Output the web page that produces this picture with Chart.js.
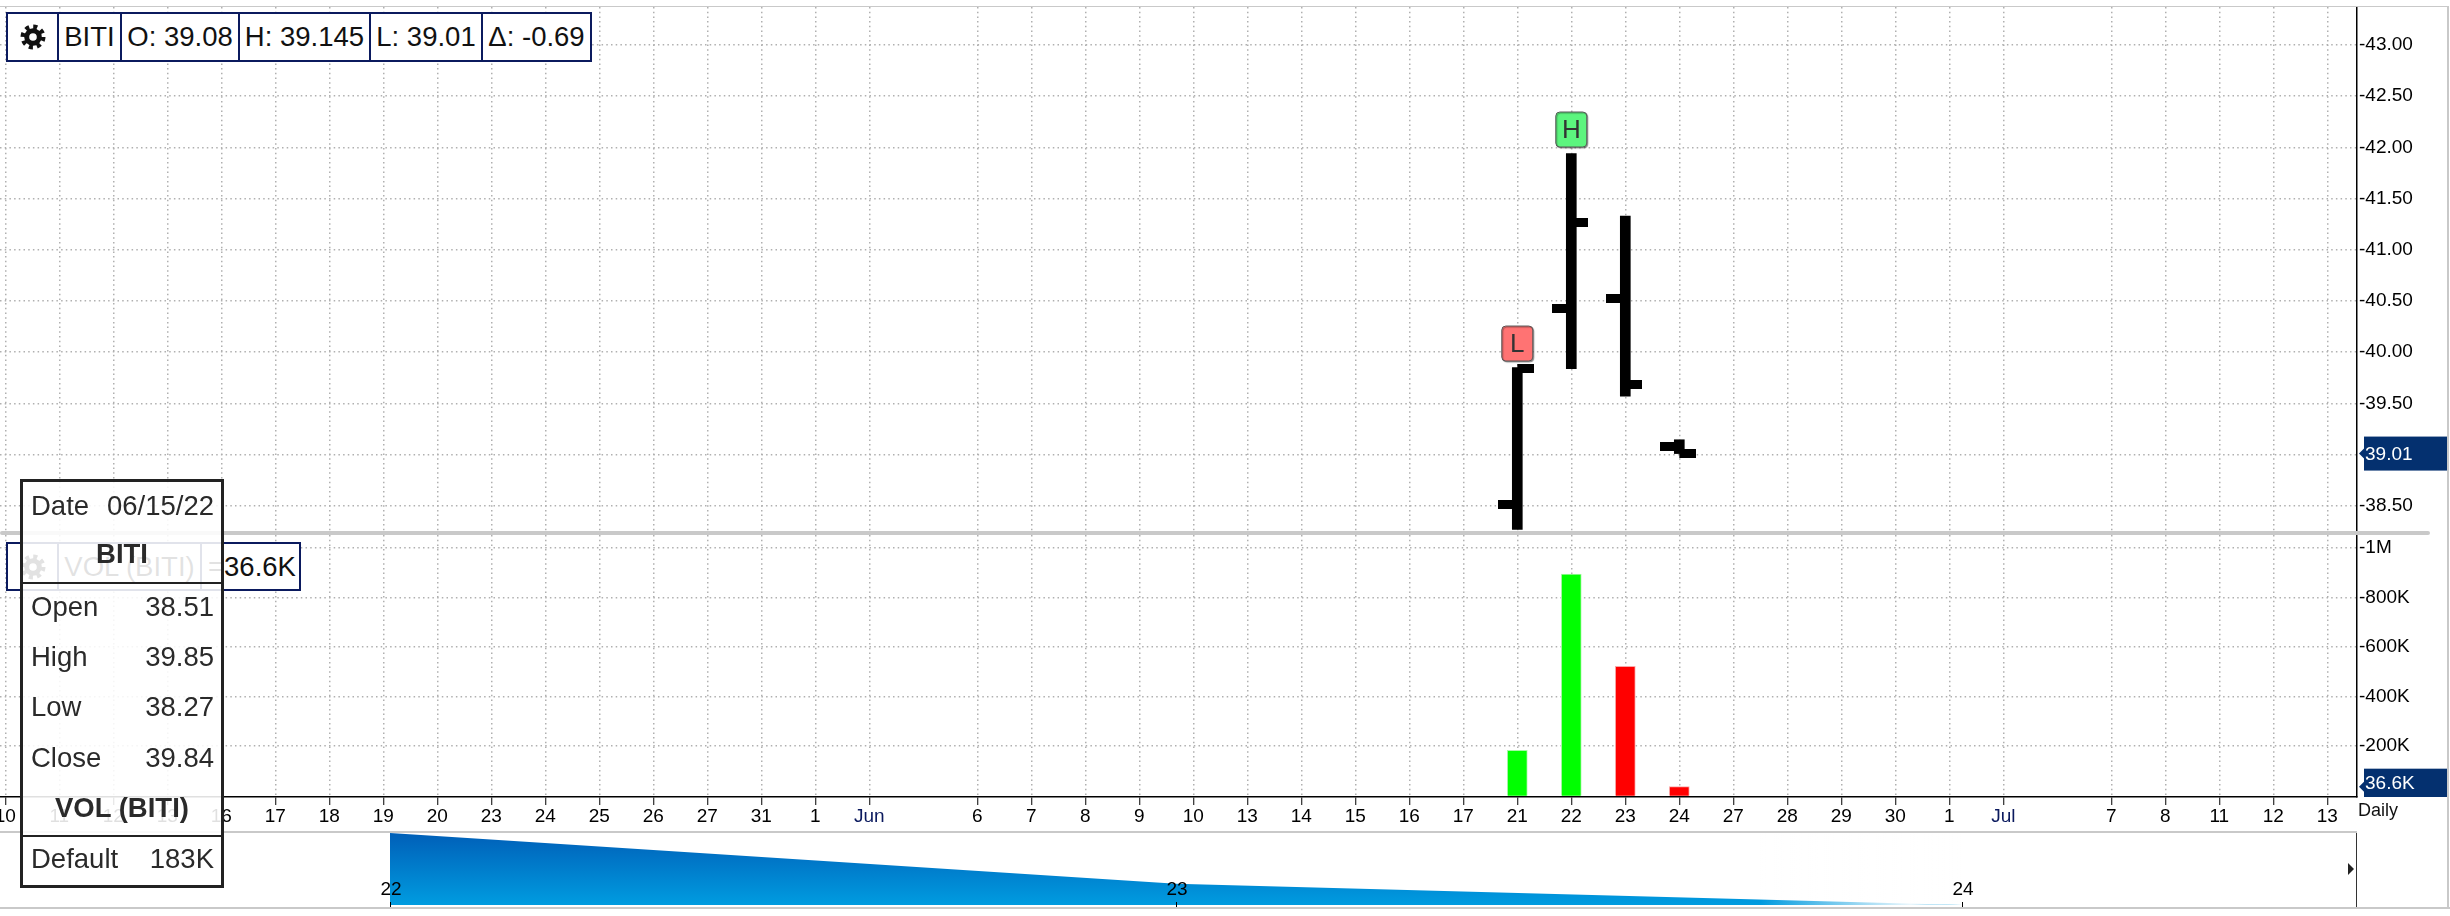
<!DOCTYPE html>
<html><head><meta charset="utf-8">
<script src="https://cdn.jsdelivr.net/npm/chart.js@4"></script>
<style>
html,body{margin:0;padding:0;background:#fff;width:2450px;height:916px;overflow:hidden;font-family:"Liberation Sans",Arial,sans-serif;color:#111}
canvas{position:absolute;display:block}
.rule{position:absolute;background:#c9c9c9}
.cellbar{position:absolute;display:flex;border:2px solid #0b1a5e;box-sizing:border-box;background:#fff;font-size:27.5px;line-height:46px}
.cellbar div{border-right:2px solid #0b1a5e;box-sizing:border-box;height:100%;white-space:nowrap;display:flex;align-items:center;justify-content:center}
.cellbar div:last-child{border-right:0}
#tip{position:absolute;left:20px;top:479px;width:204px;height:409px;box-sizing:border-box;border:3px solid #222;background:rgba(255,255,255,.88);font-size:27.5px;color:#2a2a2a}
#tip span{position:absolute;white-space:nowrap;line-height:32px}
#tip i{position:absolute;left:0;right:0;height:2px;background:#222}
#daily{position:absolute;left:2358px;top:799px;font-size:18px;line-height:22px}
#arrow{position:absolute;left:2348px;top:863px;width:0;height:0;border-left:6px solid #222;border-top:6px solid transparent;border-bottom:6px solid transparent}
</style></head><body>
<div class="rule" style="left:0;top:6px;width:2448px;height:1px"></div>
<div class="rule" style="left:2447px;top:6px;width:2px;height:901px"></div>
<div class="rule" style="left:0;top:831px;width:2357px;height:2px"></div>
<div class="rule" style="left:0;top:907px;width:2450px;height:2px"></div>
<div class="rule" style="left:2356px;top:833px;width:1px;height:74px;background:#333"></div>
<canvas id="price" style="left:0;top:7px" width="2450" height="525"></canvas>
<div class="rule" style="left:0;top:531px;width:2430px;height:4px;border-radius:2px"></div>
<canvas id="volume" style="left:0;top:535px" width="2450" height="297"></canvas>
<canvas id="nav" style="left:0;top:828px" width="2357" height="80"></canvas>
<div id="arrow"></div>
<div id="daily">Daily</div>

<div class="cellbar" style="left:6px;top:12px;width:586px;height:50px">
 <div style="width:51px"><svg width="28" height="28" viewBox="-14 -14 28 28"><circle r="6.3" fill="none" stroke="#111" stroke-width="5"/><circle r="10.2" fill="none" stroke="#111" stroke-width="4.6" stroke-dasharray="4 4"/></svg></div>
 <div style="width:63px">BITI</div><div style="width:118px">O: 39.08</div><div style="width:131px">H: 39.145</div><div style="width:112px">L: 39.01</div><div style="flex:1">&Delta;: -0.69</div>
</div>
<div class="cellbar" style="left:6px;top:542px;width:295px;height:49px">
 <div style="width:51px"><svg width="28" height="28" viewBox="-14 -14 28 28"><circle r="6.3" fill="none" stroke="#111" stroke-width="5"/><circle r="10.2" fill="none" stroke="#111" stroke-width="4.6" stroke-dasharray="4 4"/></svg></div>
 <div style="width:143px">VOL (BITI)</div><div style="flex:1;justify-content:flex-start;padding-left:6px">=36.6K</div>
</div>

<div id="tip">
 <span style="left:8px;top:8px">Date</span><span style="right:7px;top:8px">06/15/22</span>
 <span style="left:0;right:0;text-align:center;top:56px;font-weight:bold">BITI</span>
 <i style="top:100px"></i>
 <span style="left:8px;top:109px">Open</span><span style="right:7px;top:109px">38.51</span>
 <span style="left:8px;top:159px">High</span><span style="right:7px;top:159px">39.85</span>
 <span style="left:8px;top:209px">Low</span><span style="right:7px;top:209px">38.27</span>
 <span style="left:8px;top:260px">Close</span><span style="right:7px;top:260px">39.84</span>
 <span style="left:0;right:0;text-align:center;top:310px;font-weight:bold">VOL (BITI)</span>
 <i style="top:353px"></i>
 <span style="left:8px;top:361px">Default</span><span style="right:7px;top:361px">183K</span>
</div>

<script>
// ---- data ----
const categories = ['10','11','12','13','16','17','18','19','20','23','24','25','26','27','31','1','Jun','','6','7','8','9','10','13','14','15','16','17','21','22','23','24','27','28','29','30','1','Jul','','7','8','11','12','13'];
const barSlots = [28,29,30,31];
const openValues  = [38.51,40.43,40.52,39.08];
const highValues  = [39.85,41.94,41.33,39.145];
const lowValues   = [38.27,39.84,39.57,39.01];
const closeValues = [39.84,41.27,39.68,39.01];
const volumeValues = [183000,893000,522000,36600];
const volumeUp = [true,true,false,false];
const priceTicks = [38.5,39,39.5,40,40.5,41,41.5,42,42.5,43];
const priceTickLabels = ['38.50','','39.50','40.00','40.50','41.00','41.50','42.00','42.50','43.00'];
const volumeTicks = [200000,400000,600000,800000,1000000];
const volumeTickLabels = ['200K','400K','600K','800K','1M'];
const navLabels = ['22','23','24'];
const navValues = [41.27,39.68,39.01];
const extremeFlags = [{slot:28,text:'L',fill:'#ff7373'},{slot:29,text:'H',fill:'#5cf57e'}];

// ---- styling ----
const FONT = '"Liberation Sans", Arial, sans-serif';
const GRID = '#b0b0b0';
const GRID_DASH = [1.5,3.2];
Chart.defaults.font.family = FONT;
Chart.defaults.font.size = 19;
Chart.defaults.devicePixelRatio = 1;
Chart.defaults.animation = false;
Chart.defaults.responsive = false;
Chart.defaults.plugins.legend.display = false;
Chart.defaults.plugins.tooltip.enabled = false;

function noPadding(s){ s.paddingLeft = s.paddingRight = s.paddingTop = s.paddingBottom = 0; }
function tickMark(side){
  const c = document.createElement('canvas');
  c.width = side === 'left' ? 38 : 34; c.height = 9;
  const g = c.getContext('2d'); g.fillStyle = '#000';
  g.fillRect(side === 'left' ? 0 : c.width/2, 0, c.width/2, 9);
  return c;
}
function xScale(showLabels){
  return {
    type:'linear', min:-0.098, max:43.55, offset:false,
    afterBuildTicks(s){ s.ticks = categories.map((_,i)=>({value:i})); },
    afterFit(s){ s.height = showLabels ? 35 : 0; noPadding(s); },
    ticks:{display:showLabels, autoSkip:false, maxRotation:0, padding:0, includeBounds:false,
      color:c=>/J/.test(categories[c.index]||'')?'#0b1a5e':'#000',
      callback:(v)=>categories[v]},
    grid:{offset:false, drawTicks:showLabels, tickLength:8, tickColor:c=>categories[c.index]===''?'transparent':'#000', tickWidth:1, tickBorderDash:[],
      color:c=>categories[c.index]===''?'transparent':GRID, lineWidth:1.5},
    border:{display:showLabels, color:'#000', width:1.5, dash:GRID_DASH}
  };
}
function yScale(ticks,labels,min,max){
  return {
    position:'right', min, max,
    afterBuildTicks(s){ s.ticks = ticks.map(v=>({value:v})); },
    afterFit(s){ s.width = 93; noPadding(s); },
    ticks:{autoSkip:false, padding:2, color:'#000', callback:(v)=>{const l=labels[ticks.indexOf(v)];return l?'-'+l:'';}},
    grid:{drawTicks:false, color:GRID, lineWidth:1.5},
    border:{display:true, color:'#000', width:1.5, dash:GRID_DASH}
  };
}
const lastTag = {
  id:'lastTag',
  afterDraw(chart,_,o){
    const g = chart.ctx, y = chart.scales.y.getPixelForValue(o.value), h = o.half;
    const L = 2364, R = 2447;
    const top = y-h, bot = Math.min(y+h, chart.chartArea.bottom);
    g.save(); g.fillStyle = '#04306f';
    g.fillRect(L,top,R-L,bot-top);
    g.beginPath(); g.moveTo(2359,y); g.lineTo(L+1,y-6); g.lineTo(L+1,y+6); g.fill();
    g.fillStyle = '#fff'; g.font = '19px '+FONT; g.textBaseline='middle'; g.textAlign='left';
    g.fillText(o.text,2365,(top+bot)/2+1);
    g.restore();
  }
};
const flags = {
  id:'flags',
  afterDatasetsDraw(chart){
    const g = chart.ctx, xs = chart.scales.x, ys = chart.scales.y;
    extremeFlags.forEach(f=>{
      const i = barSlots.indexOf(f.slot);
      const cx = xs.getPixelForValue(f.slot), cy = ys.getPixelForValue(highValues[i]) - 24;
      g.save();
      g.shadowColor='rgba(0,0,0,.35)'; g.shadowOffsetX=1; g.shadowOffsetY=1; g.shadowBlur=1;
      g.fillStyle=f.fill; g.strokeStyle='#555'; g.lineWidth=1;
      g.beginPath(); g.roundRect(cx-15.5,cy-17.5,31,35,4); g.fill(); g.stroke();
      g.shadowColor='transparent';
      g.fillStyle='#333'; g.font='26px '+FONT; g.textAlign='center'; g.textBaseline='middle';
      g.fillText(f.text,cx,cy+1);
      g.restore();
    });
  }
};

new Chart(document.getElementById('price'),{
  type:'bar',
  data:{datasets:[
    {label:'High-Low',data:barSlots.map((s,i)=>({x:s,y:[lowValues[i],highValues[i]]})),backgroundColor:'#000',barThickness:10,order:3},
    {type:'line',label:'Open',data:barSlots.map((s,i)=>({x:s,y:openValues[i]})),showLine:false,pointStyle:tickMark('left'),order:1},
    {type:'line',label:'Close',data:barSlots.map((s,i)=>({x:s,y:closeValues[i]})),showLine:false,pointStyle:tickMark('right'),order:2}
  ]},
  options:{
    layout:{padding:0,autoPadding:false},
    scales:{x:xScale(false),y:yScale(priceTicks,priceTickLabels,43-(525-38)/102.4,43+38/102.4)},
    plugins:{lastTag:{value:39.01,text:'39.01',half:17}}
  },
  plugins:[lastTag,flags]
});

new Chart(document.getElementById('volume'),{
  type:'bar',
  data:{datasets:[{label:'Volume',data:barSlots.map((s,i)=>({x:s,y:volumeValues[i]})),
    backgroundColor:volumeUp.map(u=>u?'#00ff00':'#ff0000'),
    borderColor:volumeUp.map(u=>u?'#a8f7a8':'#f9a8a8'),borderWidth:1,barThickness:20}]},
  options:{
    layout:{padding:0,autoPadding:false},
    scales:{x:xScale(true),y:yScale(volumeTicks,volumeTickLabels,-5000,1051000)},
    plugins:{lastTag:{value:36600,text:'36.6K',half:18}}
  },
  plugins:[lastTag]
});

const navTicks = {
  id:'navTicks',
  afterDraw(chart){
    const g = chart.ctx, xs = chart.scales.x, a = chart.chartArea;
    g.save();
    const tail = g.createLinearGradient(1760,0,1961,0);
    tail.addColorStop(0,'rgba(255,255,255,0)');
    tail.addColorStop(0.75,'rgba(255,255,255,.92)');
    tail.addColorStop(0.9,'rgba(255,255,255,.6)');
    tail.addColorStop(1,'rgba(255,255,255,0)');
    g.fillStyle = tail; g.fillRect(1760,a.top,202,a.bottom-a.top);
    g.fillStyle='#000'; g.font='19px '+FONT; g.textAlign='center'; g.textBaseline='middle';
    navLabels.forEach((t,i)=>{
      const x = xs.getPixelForValue(i);
      g.fillText(t,x+1,62);
      g.fillRect(Math.round(x),74,1,5);
    });
    g.restore();
  }
};
new Chart(document.getElementById('nav'),{
  type:'line',
  data:{datasets:[{label:'Close',data:navValues.map((v,i)=>({x:i,y:v})),pointRadius:0,borderWidth:0,tension:0,fill:'start',
    backgroundColor:c=>{
      const g=c.chart.ctx.createLinearGradient(0,5,0,77);
      g.addColorStop(0,'#005fb8');g.addColorStop(1,'#009ce0');return g;}}]},
  options:{
    layout:{padding:{left:390,right:395,top:5,bottom:3},autoPadding:false},
    scales:{
      x:{type:'linear',min:0,max:2,display:false},
      y:{min:39.01,max:41.27,display:false}
    }
  },
  plugins:[navTicks]
});
</script>
</body></html>
